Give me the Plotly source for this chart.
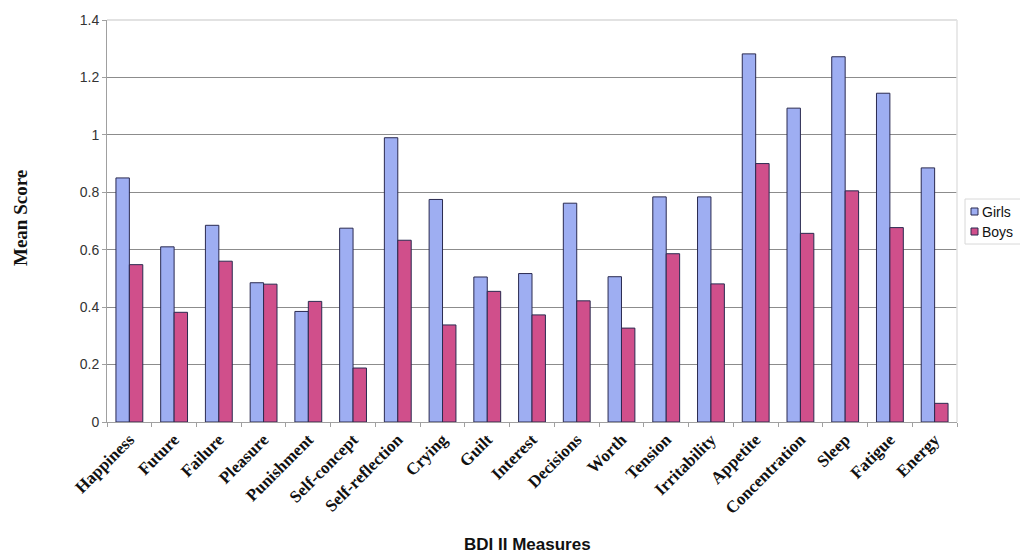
import plotly.graph_objects as go

# BDI-II item means by gender
measures = ["Happiness", "Future", "Failure", "Pleasure", "Punishment", "Self-concept",
            "Self-reflection", "Crying", "Guilt", "Interest", "Decisions", "Worth",
            "Tension", "Irritability", "Appetite", "Concentration", "Sleep", "Fatigue",
            "Energy"]
girls = [0.85, 0.61, 0.685, 0.485, 0.385, 0.675, 0.99, 0.775, 0.505, 0.517, 0.762,
         0.506, 0.784, 0.784, 1.282, 1.093, 1.272, 1.145, 0.885]
boys = [0.548, 0.382, 0.56, 0.48, 0.42, 0.188, 0.633, 0.338, 0.455, 0.373, 0.422,
        0.327, 0.586, 0.481, 0.9, 0.657, 0.805, 0.677, 0.065]
series_names = ["Girls", "Boys"]
y_ticks = [0, 0.2, 0.4, 0.6, 0.8, 1, 1.2, 1.4]

GIRL_COLOR = "#9eaef2"
BOY_COLOR = "#d04f8b"
EDGE = "#2a2a50"

fig = go.Figure()
for name, vals, col in [(series_names[0], girls, GIRL_COLOR), (series_names[1], boys, BOY_COLOR)]:
    fig.add_trace(go.Bar(
        x=measures, y=vals, name=name, showlegend=False,
        marker=dict(color=col, line=dict(color=EDGE, width=1)),
    ))

# plot-area geometry in pixels (used for placing the legend and titles)
W, H = 1020, 556
L, R, T, B = 107, 63, 20, 134
pw, ph = W - L - R, H - T - B


def px(xp):
    return (xp - L) / pw


def py(yp):
    return (H - B - yp) / ph


shapes = [
    # faint plot-area frame (top and right)
    dict(type="line", xref="paper", yref="paper", x0=0, x1=1, y0=1, y1=1,
         line=dict(color="#e2e2e2", width=2), layer="above"),
    dict(type="line", xref="paper", yref="paper", x0=1, x1=1, y0=0, y1=1,
         line=dict(color="#e2e2e2", width=1.5), layer="above"),
    # legend box
    dict(type="rect", xref="paper", yref="paper", x0=px(965), x1=px(1030),
         y0=py(244), y1=py(199), line=dict(color="#d8d8d8", width=1),
         fillcolor="white"),
]
annotations = [
    dict(text="<b>Mean Score</b>", xref="paper", yref="paper", x=px(20), y=py(218),
         xanchor="center", yanchor="middle", textangle=-90, showarrow=False,
         font=dict(family="Liberation Serif", size=19, color="#111")),
    dict(text="<b>BDI II Measures</b>", xref="paper", yref="paper", x=px(527), y=py(544),
         showarrow=False, xanchor="center", yanchor="middle",
         font=dict(family="Liberation Sans", size=17, color="#111")),
]
for i, (name, col) in enumerate([(series_names[0], GIRL_COLOR), (series_names[1], BOY_COLOR)]):
    cy = 211.5 + 20 * i
    shapes.append(dict(type="rect", xref="paper", yref="paper",
                       x0=px(971), x1=px(978), y0=py(cy + 3.5), y1=py(cy - 3.5),
                       fillcolor=col, line=dict(color=EDGE, width=1)))
    annotations.append(dict(text=name, xref="paper", yref="paper", x=px(980), y=py(cy),
                            xanchor="left", yanchor="middle", showarrow=False,
                            font=dict(family="Liberation Sans", size=14, color="#111")))

fig.update_layout(
    width=W, height=H,
    margin=dict(l=L, r=R, t=T, b=B, autoexpand=False),
    paper_bgcolor="white", plot_bgcolor="white",
    barmode="group", bargap=0.4, bargroupgap=0,
    shapes=shapes, annotations=annotations,
    xaxis=dict(
        type="category", tickangle=-45,
        tickfont=dict(family="Liberation Serif", size=17, color="#111", weight="bold"),
        ticks="outside", tickson="boundaries", ticklen=4, tickcolor="#a0a0a0",
        showline=True, linecolor="#a0a0a0", linewidth=1, showgrid=False,
    ),
    yaxis=dict(
        range=[0, 1.4], tickvals=y_ticks, ticktext=[f"{v:g}" for v in y_ticks],
        tickfont=dict(family="Liberation Sans", size=14, color="#333"),
        ticks="outside", ticklen=4, tickcolor="#a0a0a0",
        showline=True, linecolor="#a0a0a0", linewidth=1,
        showgrid=True, gridcolor="#8c8c8c", gridwidth=1, zeroline=False,
    ),
)

fig.write_html("out.html")
